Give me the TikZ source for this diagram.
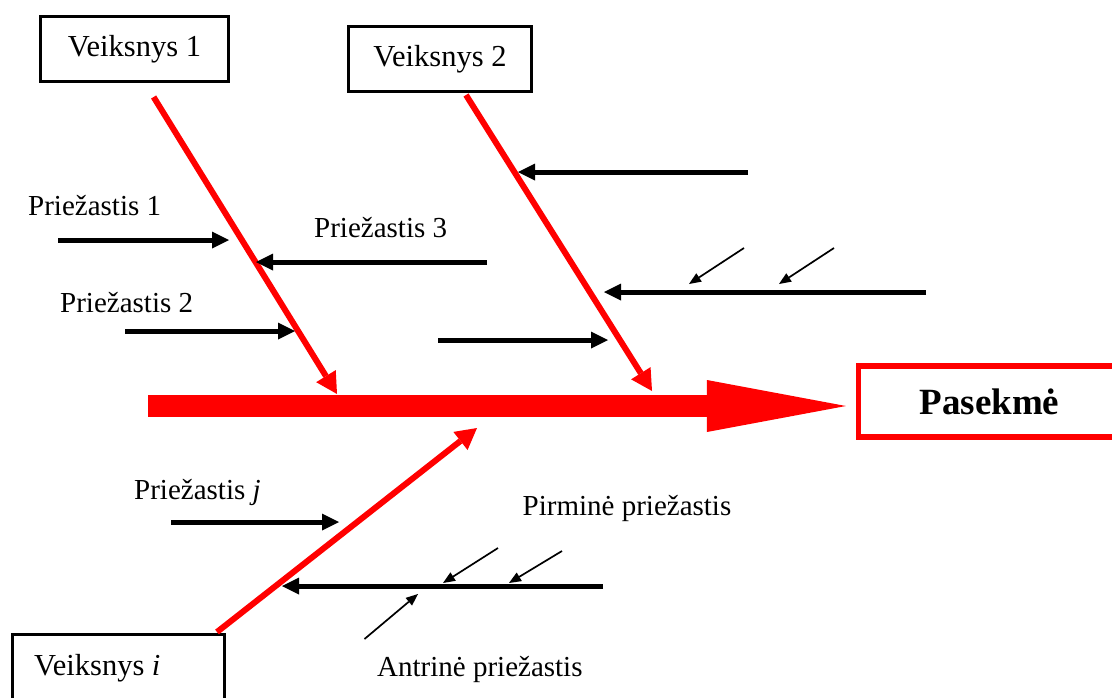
\documentclass[tikz,border=0pt]{standalone}
\usepackage{fontspec}
\setmainfont{Liberation Serif}
\usetikzlibrary{arrows.meta}
\definecolor{fishred}{RGB}{255,0,0}
\begin{document}
\begin{tikzpicture}[x=1pt,y=-1pt,
  factor/.style={draw=black, line width=3pt, inner sep=0pt, font=\fontsize{30.5}{36}\selectfont},
  result/.style={draw=fishred, line width=5.5pt, inner sep=0pt, font=\bfseries\fontsize{37}{44}\selectfont},
  lbl/.style={inner sep=0pt, anchor=base west, font=\fontsize{29}{34}\selectfont},
  bone/.style={draw=fishred, line width=6pt, -{Triangle[length=21pt,width=23pt,line width=0pt]}},
  spine/.style={draw=fishred, line width=22pt, -{Triangle[length=139pt,width=52pt,line width=0pt]}},
  cause/.style={draw=black, line width=5pt, -{Triangle[length=17pt,width=17pt,line width=0pt]}},
  subcause/.style={draw=black, line width=1.7pt, -{Triangle[length=12pt,width=10pt,line width=0pt]}},
]
\fill[white] (0,0) rectangle (1112,697);
\useasboundingbox (0,0) rectangle (1112,697);

% factor boxes and the effect box
\node[factor, minimum width=188pt, minimum height=65pt] (v1) at (134.5,49) {Veiksnys 1};
\node[factor, minimum width=183pt, minimum height=65pt] (v2) at (440,59) {Veiksnys 2};
\node[factor, minimum width=212pt, minimum height=100pt, anchor=north west] (vi) at (10.7,633) {};
\node[lbl, font=\fontsize{30.5}{36}\selectfont] (vit) at (34,675) {Veiksnys \textit{i}};
\node[result, minimum width=261.6pt, minimum height=71.4pt] (pas) at (989.5,401.5) {Pasekmė};

% cause labels
\node[lbl] (p1) at (28,215) {Priežastis 1};
\node[lbl] (p3) at (314,237) {Priežastis 3};
\node[lbl] (p2) at (60,312) {Priežastis 2};
\node[lbl] (pj) at (134,499) {Priežastis \textit{j}};
\node[lbl] (pp) at (522.5,515) {Pirminė priežastis};
\node[lbl] (ap) at (377,676) {Antrinė priežastis};

% spine
\coordinate (sp0) at (148,406);
\draw[spine, shorten >=10pt] (sp0) -- (sp0 -| pas.west);

% main bones
\coordinate (b1s) at (153.6,97);  \coordinate (b1e) at (337,394);
\coordinate (b2s) at (466,95);    \coordinate (b2e) at (652,391);
\coordinate (bis) at (217,632);   \coordinate (bie) at (477,428);
\draw[bone] (b1s) -- (b1e);
\draw[bone] (b2s) -- (b2e);
\draw[bone] (bis) -- (bie);

% primary causes
\coordinate (c1s) at (58,240);   \coordinate (c1e) at (229,240);
\coordinate (c3s) at (487,262);  \coordinate (c3e) at (256,262);
\coordinate (c2s) at (125,331);  \coordinate (c2e) at (295,331);
\coordinate (d1s) at (748,172);  \coordinate (d1e) at (518,172);
\coordinate (d2s) at (926,292);  \coordinate (d2e) at (604,292);
\coordinate (d3s) at (438,340);  \coordinate (d3e) at (608,340);
\coordinate (cjs) at (171,522);  \coordinate (cje) at (339,522);
\coordinate (cis) at (603,586);  \coordinate (cie) at (282,586);
\draw[cause] (c1s) -- (c1e);
\draw[cause] (c3s) -- (c3e);
\draw[cause] (c2s) -- (c2e);
\draw[cause] (d1s) -- (d1e);
\draw[cause] (d2s) -- (d2e);
\draw[cause] (d3s) -- (d3e);
\draw[cause] (cjs) -- (cje);
\draw[cause] (cis) -- (cie);

% secondary causes
\coordinate (s1s) at (744,248);   \coordinate (s1e) at (689,284);
\coordinate (s2s) at (834,248);   \coordinate (s2e) at (779,284);
\coordinate (s3s) at (498,548);   \coordinate (s3e) at (443,583);
\coordinate (s4s) at (562,551);   \coordinate (s4e) at (509,583);
\coordinate (s5s) at (364.5,639); \coordinate (s5e) at (418,594);
\draw[subcause] (s1s) -- (s1e);
\draw[subcause] (s2s) -- (s2e);
\draw[subcause] (s3s) -- (s3e);
\draw[subcause] (s4s) -- (s4e);
\draw[subcause] (s5s) -- (s5e);
\end{tikzpicture}
\end{document}
